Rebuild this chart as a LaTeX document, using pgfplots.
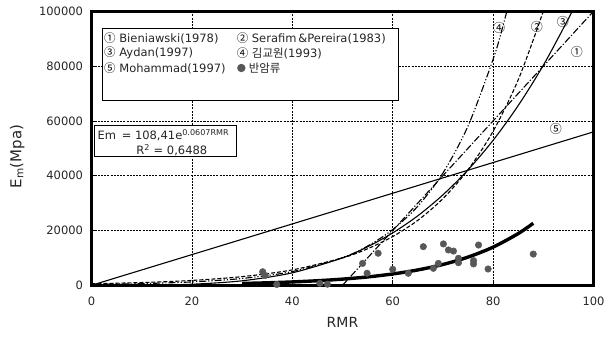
\documentclass[border=0pt]{standalone}
\usepackage{pgfplots}
\pgfplotsset{compat=1.18}
\usepackage{fontspec}
\setmainfont{DejaVu Sans}
\newfontfamily\kr{Noto Sans CJK KR}

\definecolor{dotgray}{RGB}{88,88,88}
\newcommand{\cn}[1]{{\kr\color{black} #1}}

\begin{document}
\begin{tikzpicture}[x=1pt,y=1pt]
\path[use as bounding box] (-91.5,-52.7) rectangle (513.5,285.3);
\begin{axis}[
  at={(0,0)}, anchor=south west,
  scale only axis, width=502pt, height=274pt,
  xmin=0, xmax=100, ymin=0, ymax=100000,
  xtick={0,20,...,100}, ytick={0,20000,...,100000},
  xticklabels={0,20,40,60,80,100},
  yticklabels={0,20000,40000,60000,80000,100000},
  scaled y ticks=false,
  grid=major,
  major grid style={black, line width=0.5pt, dash pattern=on 2pt off 1.2pt},
  axis line style={line width=3.2pt},
  tick align=inside, tick pos=left, major tick length=5pt,
  tick style={black, line width=0.6pt},
  ticklabel style={font=\fontsize{11.5}{13}\selectfont, text=black!85},
  xticklabel style={yshift=-8pt},
  yticklabel style={xshift=-5pt},
  xlabel={RMR},
  xlabel style={font=\fontsize{14}{16}\selectfont, text=black!85,
    at={(axis description cs:0.5,-0.134)}, anchor=center},
  ylabel={E\textsubscript{m}(Mpa)},
  ylabel style={font=\fontsize{15}{17}\selectfont, text=black!85,
    at={(axis description cs:-0.148,0.47)}, anchor=center},
  clip=true,
]
% (1) Bieniawski (1978): Em = 2 RMR - 100 (GPa)
\addplot[black, line width=1.1pt, dash pattern=on 7pt off 2pt on 1.2pt off 2pt]
  coordinates {(50,0) (100,100000)};
% (2) Serafim & Pereira (1983)
\addplot[black, line width=1.1pt, dash pattern=on 4pt off 2pt, smooth]
  coordinates {(0,562) (10,1000) (20,1778) (30,3162) (40,5623) (50,10000)
    (55,13335) (60,17783) (65,23714) (70,31623) (75,42170) (80,56234)
    (85,74989) (90,100000) (92,112200)};
% (3) Aydan (1997)
\addplot[black, line width=1.1pt, smooth]
  coordinates {(0,0) (10,34) (20,391) (30,1645) (40,4557) (50,10020)
    (55,14050) (60,19120) (65,25370) (70,33000) (75,42120) (80,52910)
    (85,65600) (90,80290) (95,97280) (97,104700)};
% (4) Kim (1993)
\addplot[black, line width=1.1pt, dash pattern=on 7pt off 2pt on 1.2pt off 2pt on 1.2pt off 2pt, smooth]
  coordinates {(0,305) (10,614) (20,1237) (30,2491) (40,5016) (50,10100)
    (55,14333) (60,20339) (65,28863) (70,40958) (75,58123) (80,82481)
    (82,94874) (84,109100)};
% (5) Mohammad (1997)
\addplot[black, line width=1.1pt]
  coordinates {(0,0) (100,56000)};
% exponential fit of the measured values
\addplot[black, line width=3.4pt, smooth]
  coordinates {(30,670) (35,910) (40,1231) (45,1667) (50,2259) (55,3054) (60,4138)
    (65,5606) (70,7594) (75,10285) (80,13931) (85,18875) (88,22641)};
% measured values
\addplot[only marks, mark=*, mark size=3.3pt,
  mark options={fill=dotgray, draw=dotgray}]
  coordinates {(34.1,4950) (34.6,3600) (36.9,300) (45.5,700) (47.0,400)
    (54.0,8000) (54.9,4400) (57.1,11700) (60.0,5840) (63.1,4400)
    (66.1,14100) (68.1,6200) (69.1,8000) (70.1,15100) (71.1,12900)
    (72.1,12500) (73.1,9850) (73.1,8250) (76.1,9000) (76.1,7800)
    (77.1,14700) (79.0,5950) (88.0,11400)};

% curve labels
\begin{scope}[every node/.style={font=\fontsize{12}{13}\selectfont, inner sep=0pt}]
\node at (axis cs:81.2,93900) {\cn{④}};
\node at (axis cs:88.7,94300) {\cn{②}};
\node at (axis cs:93.9,96100) {\cn{③}};
\node at (axis cs:96.7,85300) {\cn{①}};
\node at (axis cs:92.5,57000) {\cn{⑤}};
\end{scope}

% legend box
\draw[black, line width=0.7pt, fill=white]
  (axis description cs:0.0223,0.939) rectangle (axis description cs:0.611,0.676);
\begin{scope}[every node/.style={font=\fontsize{11.5}{13}\selectfont, anchor=west, inner sep=0pt, text=black!85}]
\node at (axis description cs:0.0249,0.9026) {\cn{①} Bieniawski(1978)};
\node at (axis description cs:0.289,0.9026) {\cn{②} Serafim\,\&Pereira(1983)};
\node at (axis description cs:0.0249,0.8478) {\cn{③} Aydan(1997)};
\node at (axis description cs:0.289,0.8478) {\cn{④} {\kr 김교원}(1993)};
\node at (axis description cs:0.0249,0.7931) {\cn{⑤} Mohammad(1997)};
\node at (axis description cs:0.313,0.7931) {{\kr 반암류}};
\end{scope}
\fill[dotgray] (axis description cs:0.2985,0.7931) circle (4.2pt);

% regression box
\draw[black, line width=0.8pt, fill=white]
  (axis description cs:0.005,0.585) rectangle (axis description cs:0.289,0.469);
\node[font=\fontsize{11.5}{13}\selectfont, anchor=west, inner sep=0pt, text=black!85]
  at (axis description cs:0.012,0.548) {Em\, = 108,41e\textsuperscript{0.0607RMR}};
\node[font=\fontsize{11.5}{13}\selectfont, anchor=center, inner sep=0pt, text=black!85]
  at (axis description cs:0.16,0.493) {R\textsuperscript{2} = 0,6488};

% heavy frame
\draw[black, line width=3.6pt]
  (axis description cs:0,0) rectangle (axis description cs:1,1);
\end{axis}
\end{tikzpicture}
\end{document}
